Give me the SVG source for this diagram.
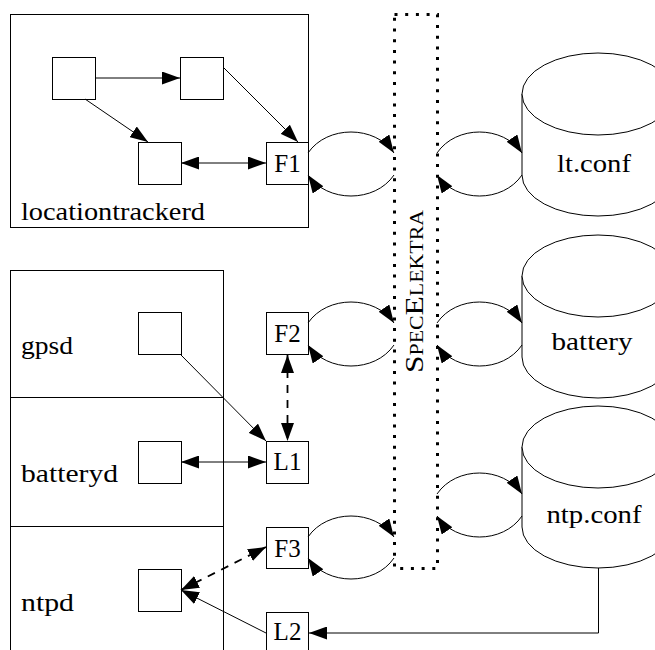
<svg xmlns="http://www.w3.org/2000/svg" width="655" height="650" viewBox="0 0 655 650">
<defs>
<marker id="ah" viewBox="0 0 18 13" refX="18" refY="6.5" markerWidth="18" markerHeight="13" markerUnits="userSpaceOnUse" orient="auto-start-reverse">
<path d="M0,0 L18,6.5 L0,13 z" fill="#000"/>
</marker>
<style>
.box{fill:#fff;stroke:#000;stroke-width:1}
.lbl{font-family:'Liberation Serif','DejaVu Serif',serif;font-size:25px;fill:#000}
.mid{text-anchor:middle}
.cn{fill:none;stroke:#000;stroke-width:1}
.dash{stroke-dasharray:8 7;stroke-width:1.8}
.one{marker-end:url(#ah)}
.two{marker-start:url(#ah);marker-end:url(#ah)}
.cyl{fill:#fff;stroke:#000;stroke-width:1}
</style>
</defs>
<rect width="655" height="650" fill="#fff"/>

<g id="locationtrackerd">
<rect class="box" x="10.5" y="14.5" width="298" height="213"/>
<text class="lbl" x="21" y="220" textLength="184" lengthAdjust="spacingAndGlyphs">locationtrackerd</text>
</g>
<g id="lt-a"><rect class="box" x="52.5" y="57.5" width="43" height="42"/></g>
<g id="lt-b"><rect class="box" x="180.5" y="57.5" width="43" height="42"/></g>
<g id="lt-c"><rect class="box" x="138.5" y="142.5" width="43" height="42"/></g>
<g id="F1"><rect class="box" x="266.5" y="142.5" width="42" height="42"/><text class="lbl mid" x="287.5" y="172">F1</text></g>

<g id="daemons">
<rect class="box" x="10.5" y="270.5" width="213" height="400"/>
<line class="cn" x1="10" y1="397.5" x2="223" y2="397.5"/>
<line class="cn" x1="10" y1="526.5" x2="223" y2="526.5"/>
</g>
<g id="gpsd"><text class="lbl" x="21" y="354" textLength="52" lengthAdjust="spacingAndGlyphs">gpsd</text><rect class="box" x="138.5" y="312.5" width="43" height="42"/></g>
<g id="batteryd"><text class="lbl" x="21" y="482" textLength="97" lengthAdjust="spacingAndGlyphs">batteryd</text><rect class="box" x="138.5" y="441.5" width="43" height="42"/></g>
<g id="ntpd"><text class="lbl" x="21" y="611" textLength="53" lengthAdjust="spacingAndGlyphs">ntpd</text><rect class="box" x="138.5" y="569.5" width="43" height="42"/></g>

<g id="F2"><rect class="box" x="266.5" y="312.5" width="42" height="42"/><text class="lbl mid" x="287.5" y="342">F2</text></g>
<g id="L1"><rect class="box" x="266.5" y="441.5" width="42" height="42"/><text class="lbl mid" x="287.5" y="470">L1</text></g>
<g id="F3"><rect class="box" x="266.5" y="527.5" width="42" height="41"/><text class="lbl mid" x="287.5" y="557">F3</text></g>
<g id="L2"><rect class="box" x="266.5" y="612.5" width="42" height="42"/><text class="lbl mid" x="287.5" y="640">L2</text></g>

<g id="SpecElektra">
<rect x="394.5" y="14.5" width="43" height="554" fill="none" stroke="#000" stroke-width="3" stroke-dasharray="3 7.7"/>
<text class="lbl" transform="translate(423,373) rotate(-90)" style="font-variant:small-caps;font-size:26px" textLength="163" lengthAdjust="spacingAndGlyphs">SpecElektra</text>
</g>

<g id="lt.conf">
<path class="cyl" d="M522,94 L522,175 A76,41 0 0 0 674,175 L674,94"/>
<ellipse class="cyl" cx="598" cy="94" rx="76" ry="41"/>
<text class="lbl mid" x="594" y="172" textLength="74" lengthAdjust="spacingAndGlyphs">lt.conf</text>
</g>
<g id="battery">
<path class="cyl" d="M522,276 L522,357 A76,41 0 0 0 674,357 L674,276"/>
<ellipse class="cyl" cx="598" cy="276" rx="76" ry="41"/>
<text class="lbl mid" x="592" y="350" textLength="81" lengthAdjust="spacingAndGlyphs">battery</text>
</g>
<g id="ntp.conf">
<path class="cyl" d="M522,447 L522,527 A76,41 0 0 0 674,527 L674,447"/>
<ellipse class="cyl" cx="598" cy="447" rx="76" ry="41"/>
<text class="lbl mid" x="594" y="523" textLength="95" lengthAdjust="spacingAndGlyphs">ntp.conf</text>
</g>

<g id="connectors">
<line class="cn one" x1="95" y1="78" x2="180" y2="78"/>
<line class="cn one" x1="85" y1="99" x2="148" y2="142"/>
<line class="cn one" x1="223" y1="67" x2="298" y2="142"/>
<line class="cn two" x1="181" y1="163" x2="266" y2="163"/>

<line class="cn one" x1="181" y1="355" x2="266" y2="441"/>
<line class="cn dash two" x1="287.5" y1="355" x2="287.5" y2="441"/>
<line class="cn two" x1="181" y1="462" x2="266" y2="462"/>
<line class="cn dash two" x1="181" y1="590" x2="266" y2="547"/>
<line class="cn one" x1="266" y1="633" x2="181" y2="590"/>
<path class="cn one" d="M598.5,568 L598.5,633 L309,633"/>

<path class="cn one" d="M308,153 C327,125 375,125 394,153"/>
<path class="cn one" d="M394,175 C375,203 327,203 308,175"/>
<path class="cn one" d="M437,153 C456,125 503,125 522,153"/>
<path class="cn one" d="M522,175 C503,203 456,203 437,175"/>

<path class="cn one" d="M308,323 C327,295 375,295 394,323"/>
<path class="cn one" d="M394,345 C375,373 327,373 308,345"/>
<path class="cn one" d="M437,323 C456,295 503,295 522,323"/>
<path class="cn one" d="M522,345 C503,373 456,373 437,345"/>

<path class="cn one" d="M308,537 C327,509 375,509 394,537"/>
<path class="cn one" d="M394,558 C375,586 327,586 308,558"/>
<path class="cn one" d="M437,494 C456,466 503,466 522,494"/>
<path class="cn one" d="M522,516 C503,544 456,544 437,516"/>
</g>
</svg>
